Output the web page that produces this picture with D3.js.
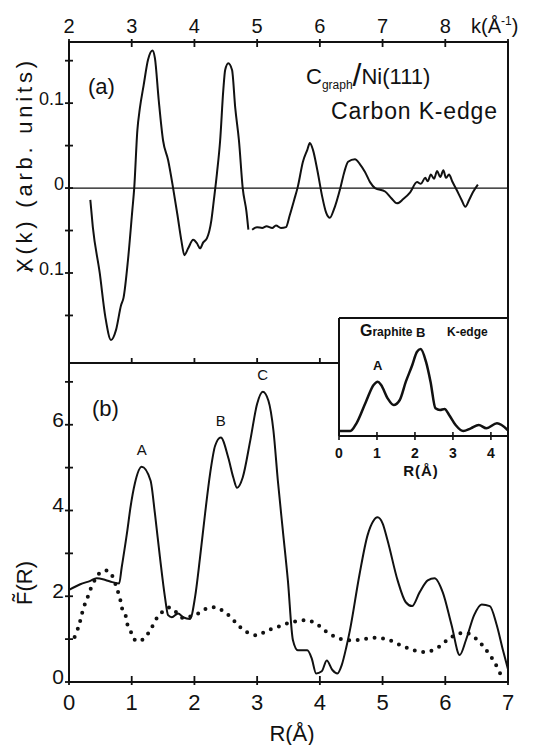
<!DOCTYPE html>
<html>
<head>
<meta charset="utf-8">
<script src="https://cdn.jsdelivr.net/npm/d3@7"></script>
<style>
  body { margin: 0; background: #fff; }
  svg { display: block; }
  text { font-family: "Liberation Sans", Arial, sans-serif; fill: #111; }
</style>
</head>
<body>
<svg id="chart" width="538" height="745"></svg>
<script>
// (a) chi(k), C_graph / Ni(111); null marks the small break in the trace
const chiK = [2.34, 2.38, 2.49, 2.58, 2.67, 2.75, 2.83, 2.87, 2.94, 3.01, 3.04, 3.09, 3.13, 3.19, 3.26, 3.33,
  3.37, 3.43, 3.50, 3.58, 3.66, 3.73, 3.79, 3.84, 3.90, 3.98, 4.04, 4.09, 4.14, 4.20, 4.27, 4.31,
  4.36, 4.41, 4.46, 4.49, 4.54, 4.60, 4.65, 4.71, 4.77, 4.83, 4.86, 4.89, 4.92, 5.00, 5.08, 5.15,
  5.24, 5.30, 5.38, 5.46, 5.52, 5.59, 5.65, 5.73, 5.80, 5.84, 5.89, 5.96, 6.04, 6.10, 6.16, 6.22,
  6.33, 6.39, 6.45, 6.56, 6.64, 6.72, 6.80, 6.88, 7.04, 7.14, 7.23, 7.33, 7.44, 7.55, 7.61, 7.68,
  7.72, 7.77, 7.82, 7.87, 7.92, 7.97, 8.01, 8.06, 8.11, 8.18, 8.26, 8.32, 8.38, 8.44, 8.52];
const chiVal = [-0.014, -0.046, -0.100, -0.152, -0.179, -0.167, -0.138, -0.129, -0.085, -0.026, 0.000, 0.068, 0.094, 0.121, 0.151, 0.162,
  0.153, 0.104, 0.056, 0.033, 0.000, -0.032, -0.061, -0.079, -0.071, -0.061, -0.065, -0.071, -0.064, -0.059, -0.038, -0.014,
  0.018, 0.056, 0.115, 0.139, 0.147, 0.139, 0.095, 0.056, 0.000, -0.028, -0.049, null, -0.049, -0.046, -0.047, -0.045,
  -0.047, -0.044, -0.047, -0.046, -0.032, -0.014, 0.002, 0.031, 0.045, 0.053, 0.045, 0.021, -0.011, -0.029, -0.035, -0.026,
  0.001, 0.019, 0.031, 0.034, 0.028, 0.019, 0.007, 0.000, -0.004, -0.012, -0.018, -0.013, -0.005, 0.007, 0.005, 0.012,
  0.008, 0.016, 0.011, 0.020, 0.013, 0.021, 0.012, 0.016, 0.008, -0.002, -0.014, -0.022, -0.014, -0.005, 0.004];

// (b) Fourier transform, solid curve
const ftR = [0.00, 0.18, 0.34, 0.44, 0.58, 0.69, 0.80, 0.84, 0.93, 0.98, 1.05, 1.16, 1.30, 1.37, 1.45, 1.53,
  1.58, 1.64, 1.74, 1.82, 1.93, 2.01, 2.09, 2.17, 2.25, 2.33, 2.42, 2.54, 2.62, 2.68, 2.77, 2.89,
  3.00, 3.09, 3.18, 3.26, 3.33, 3.41, 3.49, 3.57, 3.65, 3.80, 3.87, 3.94, 4.03, 4.11, 4.20, 4.28,
  4.35, 4.42, 4.48, 4.63, 4.76, 4.85, 4.92, 5.00, 5.08, 5.24, 5.37, 5.47, 5.59, 5.72, 5.83, 5.96,
  6.10, 6.23, 6.33, 6.46, 6.58, 6.71, 6.82, 6.92, 7.00];
const ftVal = [2.15, 2.28, 2.36, 2.42, 2.38, 2.33, 2.30, 2.67, 3.53, 4.07, 4.63, 5.02, 4.70, 3.93, 2.91, 1.98,
  1.56, 1.51, 1.60, 1.51, 1.47, 1.98, 2.91, 3.93, 4.86, 5.51, 5.70, 5.23, 4.77, 4.53, 4.77, 5.63,
  6.49, 6.77, 6.56, 5.86, 4.70, 3.53, 2.37, 0.98, 0.74, 0.74, 0.55, 0.20, 0.25, 0.50, 0.28, 0.20,
  0.40, 0.80, 1.21, 2.49, 3.42, 3.75, 3.84, 3.70, 3.30, 2.37, 1.86, 1.77, 2.09, 2.37, 2.42, 2.09,
  1.33, 0.63, 0.98, 1.56, 1.81, 1.77, 1.33, 0.74, 0.30];

// (b) dotted curve
const dotR = [0.09, 0.15, 0.19, 0.23, 0.29, 0.35, 0.43, 0.52, 0.64, 0.72, 0.76, 0.81, 0.84, 0.90, 0.93, 0.99,
  1.05, 1.13, 1.24, 1.33, 1.41, 1.50, 1.61, 1.73, 1.82, 1.94, 2.06, 2.20, 2.34, 2.46, 2.58, 2.68,
  2.77, 2.87, 3.01, 3.15, 3.32, 3.49, 3.64, 3.80, 3.95, 4.10, 4.30, 4.50, 4.70, 4.90, 5.10, 5.30,
  5.50, 5.70, 5.90, 6.05, 6.20, 6.35, 6.50, 6.65, 6.80, 6.90];
const dotVal = [1.05, 1.28, 1.49, 1.72, 1.95, 2.19, 2.42, 2.58, 2.58, 2.37, 2.19, 1.98, 1.74, 1.56, 1.35, 1.16,
  0.98, 0.95, 1.09, 1.30, 1.51, 1.65, 1.74, 1.60, 1.49, 1.53, 1.60, 1.72, 1.74, 1.65, 1.51, 1.35,
  1.23, 1.14, 1.09, 1.19, 1.28, 1.37, 1.42, 1.44, 1.35, 1.18, 1.02, 0.97, 1.00, 1.03, 0.98, 0.85,
  0.74, 0.70, 0.82, 1.00, 1.12, 1.14, 1.00, 0.75, 0.42, 0.12];

// inset: graphite K-edge
const insetR = [0.00, 0.30, 0.46, 0.71, 0.91, 1.02, 1.11, 1.28, 1.44, 1.60, 1.76, 1.93, 2.05, 2.15, 2.29, 2.41,
  2.54, 2.66, 2.78, 2.90, 3.07, 3.27, 3.47, 3.68, 3.88, 4.16, 4.44];
const insetVal = [0.5, 0.5, 1.27, 3.43, 5.1, 5.43, 5.1, 3.77, 3.1, 3.6, 5.43, 7.1, 8.4, 8.7, 7.43, 5.43,
  2.77, 2.6, 2.7, 2.1, 1.1, 0.5, 0.77, 1.1, 0.77, 1.27, 0.6];

const kTicks = [2, 3, 4, 5, 6, 7, 8, 9];
const kLabels = [2, 3, 4, 5, 6, 7, 8];
const chiTicks = [0.15, 0.1, 0.05, 0, -0.05, -0.1, -0.15];
const chiLabels = ['0.1', '0', '\u2212 0.1'];
const chiLabelVals = [0.1, 0, -0.1];
const rTicks = [0, 1, 2, 3, 4, 5, 6, 7];
const fTicks = [0, 1, 2, 3, 4, 5, 6, 7];
const fLabels = [0, 2, 4, 6];
const insetTicks = [0, 1, 2, 3, 4];
const peakNames = ['A', 'B', 'C'];
const peakR = [1.16, 2.42, 3.09];
const insetPeakNames = ['A', 'B'];
const insetPeakR = [1.02, 2.15];

const svg = d3.select('#chart');
const fLeft = 69, fRight = 508, fTop = 42, fMid = 363, fBottom = 682;

const xK = d3.scaleLinear().domain([2, 9]).range([fLeft, fRight]);
const yChi = d3.scaleLinear().domain([-0.206, 0.172]).range([fMid, fTop]);
const xR = d3.scaleLinear().domain([0, 7]).range([fLeft, fRight]);
const yF = d3.scaleLinear().domain([0, 7.44]).range([fBottom, fMid]);

const ink = '#111';

// frame
svg.append('rect')
    .attr('x', fLeft).attr('y', fTop)
    .attr('width', fRight - fLeft).attr('height', fBottom - fTop)
    .attr('fill', 'none').attr('stroke', ink).attr('stroke-width', 2);
svg.append('line')
    .attr('x1', fLeft).attr('x2', fRight).attr('y1', fMid).attr('y2', fMid)
    .attr('stroke', ink).attr('stroke-width', 2);

// zero line in (a)
svg.append('line')
    .attr('x1', fLeft).attr('x2', fRight)
    .attr('y1', yChi(0)).attr('y2', yChi(0))
    .attr('stroke', ink).attr('stroke-width', 1.3);

// top k axis
const topAxis = svg.append('g');
topAxis.selectAll('line').data(kTicks).enter().append('line')
    .attr('x1', d => xK(d)).attr('x2', d => xK(d))
    .attr('y1', fTop - 3).attr('y2', fTop + 5)
    .attr('stroke', ink).attr('stroke-width', 1.8);
topAxis.selectAll('text').data(kLabels).enter().append('text')
    .attr('x', d => xK(d)).attr('y', 33)
    .attr('text-anchor', 'middle').attr('font-size', 20)
    .text(d => d);
const kTitle = svg.append('text').attr('x', 471).attr('y', 33).attr('font-size', 20);
kTitle.append('tspan').text('k(Å');
kTitle.append('tspan').attr('dy', -8).attr('font-size', 12).text('-1');
kTitle.append('tspan').attr('dy', 8).text(')');

// ticks on the (a)/(b) divider
svg.append('g').selectAll('line').data(kTicks.slice(1, -1)).enter().append('line')
    .attr('x1', d => xK(d)).attr('x2', d => xK(d))
    .attr('y1', fMid - 5).attr('y2', fMid)
    .attr('stroke', ink).attr('stroke-width', 1.8);

// left axis (a)
svg.append('g').selectAll('line').data(chiTicks).enter().append('line')
    .attr('x1', fLeft - 4).attr('x2', fLeft + 4)
    .attr('y1', d => yChi(d)).attr('y2', d => yChi(d))
    .attr('stroke', ink).attr('stroke-width', 1.8);
svg.append('g').selectAll('text').data(chiLabels).enter().append('text')
    .attr('x', 64).attr('y', (d, i) => yChi(chiLabelVals[i]) + 2)
    .attr('text-anchor', 'end').attr('font-size', 18)
    .text(d => d);

svg.append('text')
    .attr('transform', 'translate(32,167) rotate(-90)')
    .attr('text-anchor', 'middle').attr('font-size', 22)
    .attr('textLength', 212).attr('lengthAdjust', 'spacing')
    .text('X(k)  (arb. units)');

// left axis (b)
svg.append('g').selectAll('line').data(fTicks).enter().append('line')
    .attr('x1', fLeft - 4).attr('x2', fLeft + 4)
    .attr('y1', d => yF(d)).attr('y2', d => yF(d))
    .attr('stroke', ink).attr('stroke-width', 1.8);
svg.append('g').selectAll('text').data(fLabels).enter().append('text')
    .attr('x', 64).attr('y', d => yF(d) + 2)
    .attr('text-anchor', 'end').attr('font-size', 21)
    .text(d => d);
svg.append('text')
    .attr('transform', 'translate(32,583) rotate(-90)')
    .attr('text-anchor', 'middle').attr('font-size', 22)
    .text('F\u0303(R)');

// bottom R axis
svg.append('g').selectAll('line').data(rTicks).enter().append('line')
    .attr('x1', d => xR(d)).attr('x2', d => xR(d))
    .attr('y1', fBottom - 6).attr('y2', fBottom + 3)
    .attr('stroke', ink).attr('stroke-width', 1.8);
svg.append('g').selectAll('text').data(rTicks).enter().append('text')
    .attr('x', d => xR(d)).attr('y', 710)
    .attr('text-anchor', 'middle').attr('font-size', 22)
    .text(d => d);
svg.append('text')
    .attr('x', 292).attr('y', 741)
    .attr('text-anchor', 'middle').attr('font-size', 22)
    .text('R(Å)');

// panel labels
svg.append('text').attr('x', 88).attr('y', 94).attr('font-size', 22).text('(a)');
svg.append('text').attr('x', 92).attr('y', 416).attr('font-size', 22).text('(b)');

const sample = svg.append('text').attr('x', 306).attr('y', 84).attr('font-size', 22);
sample.append('tspan').text('C');
sample.append('tspan').attr('dy', 5).attr('font-size', 12).text('graph');
sample.append('tspan').attr('dy', -3).attr('font-size', 32).text('/');
sample.append('tspan').attr('dy', -2).text('Ni(111)');
svg.append('text').attr('x', 331).attr('y', 119).attr('font-size', 23)
    .attr('textLength', 166).attr('lengthAdjust', 'spacing')
    .text('Carbon  K-edge');

// chi(k) trace
const chiData = chiK.map((k, i) => [k, chiVal[i]]);
svg.append('path')
    .datum(chiData)
    .attr('fill', 'none').attr('stroke', ink).attr('stroke-width', 2)
    .attr('stroke-linejoin', 'round')
    .attr('d', d3.line()
        .defined(d => d[1] !== null)
        .x(d => xK(d[0])).y(d => yChi(d[1]))
        .curve(d3.curveMonotoneX));

// F(R) solid
const ftData = ftR.map((r, i) => [r, ftVal[i]]);
svg.append('path')
    .datum(ftData)
    .attr('fill', 'none').attr('stroke', ink).attr('stroke-width', 2)
    .attr('d', d3.line().x(d => xR(d[0])).y(d => yF(d[1])).curve(d3.curveMonotoneX));

// F(R) dotted
const dotData = dotR.map((r, i) => [r, dotVal[i]]);
svg.append('path')
    .datum(dotData)
    .attr('fill', 'none').attr('stroke', ink).attr('stroke-width', 4)
    .attr('stroke-linecap', 'round').attr('stroke-dasharray', '0 8.5')
    .attr('d', d3.line().x(d => xR(d[0])).y(d => yF(d[1])).curve(d3.curveCatmullRom));

// peak labels
svg.append('g').selectAll('text').data(peakNames).enter().append('text')
    .attr('x', (d, i) => xR(peakR[i]))
    .attr('y', (d, i) => yF(ftVal[ftR.indexOf(peakR[i])]) - 12)
    .attr('text-anchor', 'middle').attr('font-size', 15)
    .text(d => d);

// inset
const insetLeft = 339, insetTop = 318, insetBase = 436;
const xIn = d3.scaleLinear().domain([0, 4.45]).range([insetLeft, fRight]);
const yIn = d3.scaleLinear().domain([0, 11.8]).range([insetBase, insetTop]);

svg.append('rect')
    .attr('x', insetLeft).attr('y', insetTop)
    .attr('width', fRight - insetLeft).attr('height', 180)
    .attr('fill', '#fff');
svg.append('line')
    .attr('x1', insetLeft).attr('x2', insetLeft).attr('y1', insetTop).attr('y2', insetBase)
    .attr('stroke', ink).attr('stroke-width', 2);
svg.append('line')
    .attr('x1', insetLeft).attr('x2', fRight).attr('y1', insetTop).attr('y2', insetTop)
    .attr('stroke', ink).attr('stroke-width', 2);
svg.append('line')
    .attr('x1', insetLeft).attr('x2', fRight).attr('y1', insetBase).attr('y2', insetBase)
    .attr('stroke', ink).attr('stroke-width', 2);
svg.append('line')
    .attr('x1', fRight).attr('x2', fRight).attr('y1', insetTop).attr('y2', fBottom)
    .attr('stroke', ink).attr('stroke-width', 2);
svg.append('g').selectAll('line').data(insetTicks).enter().append('line')
    .attr('x1', d => xIn(d)).attr('x2', d => xIn(d))
    .attr('y1', insetBase - 4).attr('y2', insetBase + 4)
    .attr('stroke', ink).attr('stroke-width', 1.6);
svg.append('g').selectAll('text').data(insetTicks).enter().append('text')
    .attr('x', d => xIn(d)).attr('y', 458)
    .attr('text-anchor', 'middle').attr('font-size', 14).attr('font-weight', 'bold')
    .text(d => d);
svg.append('text').attr('x', 421).attr('y', 476)
    .attr('text-anchor', 'middle').attr('font-size', 15).attr('font-weight', 'bold')
    .attr('letter-spacing', 1)
    .text('R(Å)');

const insetData = insetR.map((r, i) => [r, insetVal[i]]);
svg.append('path')
    .datum(insetData)
    .attr('fill', 'none').attr('stroke', ink).attr('stroke-width', 2.5)
    .attr('d', d3.line().x(d => xIn(d[0])).y(d => yIn(d[1])).curve(d3.curveMonotoneX));

svg.append('g').selectAll('text').data(insetPeakNames).enter().append('text')
    .attr('x', (d, i) => xIn(insetPeakR[i]))
    .attr('y', (d, i) => yIn(insetVal[insetR.indexOf(insetPeakR[i])]) - 12)
    .attr('text-anchor', 'middle').attr('font-size', 13).attr('font-weight', 'bold')
    .text(d => d);

const graphite = svg.append('text').attr('x', 360).attr('y', 336).attr('font-weight', 'bold');
graphite.append('tspan').attr('font-size', 16).text('G');
graphite.append('tspan').attr('font-size', 12).text('raphite');
svg.append('text').attr('x', 447).attr('y', 336)
    .attr('font-size', 12).attr('font-weight', 'bold')
    .text('K-edge');
</script>
</body>
</html>
